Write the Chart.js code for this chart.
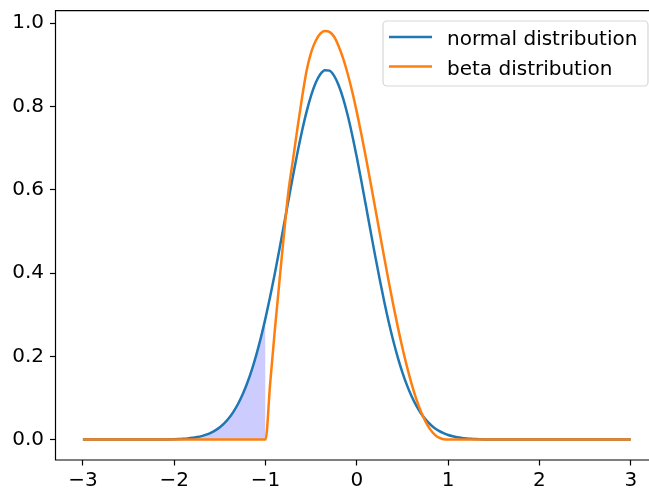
<!DOCTYPE html>
<html>
<head>
<meta charset="utf-8">
<script src="https://cdn.jsdelivr.net/npm/chart.js@4.4.1/dist/chart.umd.min.js"></script>
<style>
  html, body { margin: 0; padding: 0; background: #fff; overflow: hidden; }
  #wrap { width: 649px; height: 491px; }
</style>
</head>
<body>
<div id="wrap"><canvas id="pdfChart" width="649" height="491"></canvas></div>
<script>
// sample grid shared by both curves
const xs = [
  -3, -2.5,
  -2, -1.95, -1.9, -1.85, -1.8, -1.75, -1.7, -1.65, -1.6, -1.55,
  -1.5, -1.45, -1.4, -1.35, -1.3, -1.25, -1.2, -1.15, -1.1, -1.05,
  -1, -0.95, -0.9, -0.85, -0.8, -0.75, -0.7, -0.65, -0.6, -0.55,
  -0.5, -0.45, -0.4, -0.35, -0.3, -0.25, -0.2, -0.15, -0.1, -0.05,
  0, 0.05, 0.1, 0.15, 0.2, 0.25, 0.3, 0.35, 0.4, 0.45,
  0.5, 0.55, 0.6, 0.65, 0.7, 0.75, 0.8, 0.85, 0.9, 0.95,
  1, 1.05, 1.1, 1.15, 1.2, 1.25, 1.3, 1.35, 1.4, 1.45,
  1.5, 2, 2.5, 3
];

const normalPdf = [
  0, 0,
  0.0009, 0.0013, 0.0020, 0.0029, 0.0042, 0.0060, 0.0084, 0.0118, 0.0163, 0.0221,
  0.0298, 0.0396, 0.0519, 0.0673, 0.0861, 0.1089, 0.1359, 0.1676, 0.2041, 0.2455,
  0.2917, 0.3422, 0.3967, 0.4541, 0.5134, 0.5733, 0.6323, 0.6888, 0.7411, 0.7876,
  0.8266, 0.8568, 0.8773, 0.8871, 0.8860, 0.8740, 0.8516, 0.8194, 0.7788, 0.7311,
  0.6778, 0.6207, 0.5614, 0.5015, 0.4424, 0.3856, 0.3318, 0.2820, 0.2368, 0.1964,
  0.1608, 0.1301, 0.1040, 0.0820, 0.0639, 0.0492, 0.0374, 0.0281, 0.0208, 0.0153,
  0.0110, 0.0079, 0.0056, 0.0039, 0.0027, 0.0018, 0.0012, 0.0008, 0.0005, 0.0003,
  0.0002, 0, 0, 0
];

const betaPdf = [
  0, 0,
  0, 0, 0, 0, 0, 0, 0, 0, 0, 0,
  0, 0, 0, 0, 0, 0, 0, 0, 0, 0,
  0, 0.132, 0.258, 0.374, 0.488, 0.594, 0.671, 0.748, 0.821, 0.886,
  0.930, 0.958, 0.975, 0.981, 0.979, 0.968, 0.9454, 0.9157, 0.8786, 0.8352,
  0.7864, 0.7333, 0.6768, 0.6181, 0.5580, 0.4975, 0.4376, 0.3791, 0.3228, 0.2695,
  0.2198, 0.1745, 0.1338, 0.0984, 0.0685, 0.0443, 0.0257, 0.0126, 0.0046, 0.0008,
  0, 0, 0, 0, 0, 0, 0, 0, 0, 0,
  0, 0, 0, 0
];

const xTicks = [-3, -2, -1, 0, 1, 2, 3];
const yTicks = [0, 0.2, 0.4, 0.6, 0.8, 1.0];
const shadeEnd = -1;

const toPoints = (ys) => xs.map((x, i) => ({ x, y: ys[i] }));
const shadePoints = toPoints(normalPdf).filter((p) => p.x <= shadeEnd);

const FONT = '"DejaVu Sans", sans-serif';
Chart.defaults.font.family = FONT;
Chart.defaults.font.size = 20;
Chart.defaults.color = "#000";

// left, top and bottom spines (the right one falls past the canvas edge)
const frame = {
  id: "frame",
  afterDatasetsDraw(chart) {
    const { ctx, chartArea: a } = chart;
    ctx.save();
    ctx.strokeStyle = "#000";
    ctx.lineWidth = 1.2;
    ctx.beginPath();
    ctx.moveTo(a.right, a.top);
    ctx.lineTo(a.left, a.top);
    ctx.lineTo(a.left, a.bottom);
    ctx.lineTo(a.right, a.bottom);
    ctx.stroke();
    ctx.restore();
  }
};

// boxed legend in the upper right corner
const legendBox = {
  id: "legendBox",
  afterDraw(chart) {
    const { ctx, chartArea: a } = chart;
    const items = chart.data.datasets.filter((d) => d.label);
    const right = a.right - 1, top = a.top + 10.3;
    const w = 265, h = 65, r = 4;
    const left = right - w;
    ctx.save();
    ctx.beginPath();
    ctx.moveTo(left + r, top);
    ctx.arcTo(right, top, right, top + h, r);
    ctx.arcTo(right, top + h, left, top + h, r);
    ctx.arcTo(left, top + h, left, top, r);
    ctx.arcTo(left, top, right, top, r);
    ctx.closePath();
    ctx.fillStyle = "rgba(255,255,255,0.8)";
    ctx.fill();
    ctx.strokeStyle = "rgba(204,204,204,0.8)";
    ctx.lineWidth = 1.2;
    ctx.stroke();
    ctx.font = "20px " + FONT;
    ctx.textBaseline = "alphabetic";
    items.forEach((d, i) => {
      const y = top + 16 + i * 29.4;
      ctx.strokeStyle = d.borderColor;
      ctx.lineWidth = 2.5;
      ctx.beginPath();
      ctx.moveTo(left + 6, y);
      ctx.lineTo(left + 49, y);
      ctx.stroke();
      ctx.fillStyle = "#000";
      ctx.fillText(d.label, left + 64, y + 8.3);
    });
    ctx.restore();
  }
};

const minus = (v) => String(v).replace("-", "\u2212");

new Chart(document.getElementById("pdfChart"), {
  type: "line",
  data: {
    datasets: [
      {
        label: "normal distribution",
        data: toPoints(normalPdf),
        borderColor: "#1f77b4",
        borderWidth: 2.5,
        pointRadius: 0,
        cubicInterpolationMode: "monotone",
        fill: false,
        order: 1
      },
      {
        label: "beta distribution",
        data: toPoints(betaPdf),
        borderColor: "#ff7f0e",
        borderWidth: 2.5,
        pointRadius: 0,
        cubicInterpolationMode: "monotone",
        fill: false,
        order: 0
      },
      {
        label: "",
        data: shadePoints,
        borderWidth: 0,
        borderColor: "rgba(0,0,0,0)",
        backgroundColor: "rgba(0,0,255,0.2)",
        pointRadius: 0,
        cubicInterpolationMode: "monotone",
        fill: "origin",
        order: 2
      }
    ]
  },
  options: {
    responsive: false,
    animation: false,
    layout: { padding: { top: 10.7, right: 0, bottom: 0, left: 0 } },
    plugins: {
      legend: { display: false },
      tooltip: { enabled: false }
    },
    scales: {
      x: {
        type: "linear",
        min: -3.3,
        max: 3.2,
        afterBuildTicks: (s) => { s.ticks = xTicks.map((v) => ({ value: v })); },
        afterFit: (s) => { s.height = 31; s.paddingLeft = 0; s.paddingRight = 0; },
        ticks: { callback: (v) => minus(v), padding: 3, maxRotation: 0, autoSkip: false },
        grid: { drawOnChartArea: false, tickLength: 5.5, tickColor: "#000", tickWidth: 1.2 },
        border: { display: false }
      },
      y: {
        min: -0.049,
        max: 1.03,
        afterBuildTicks: (s) => { s.ticks = yTicks.map((v) => ({ value: v })); },
        afterFit: (s) => { s.width = 55.5; s.paddingTop = 0; s.paddingBottom = 0; },
        ticks: { callback: (v) => v.toFixed(1), padding: 6 },
        grid: { drawOnChartArea: false, tickLength: 5.5, tickColor: "#000", tickWidth: 1.2 },
        border: { display: false }
      }
    }
  },
  plugins: [frame, legendBox]
});
</script>
</body>
</html>
